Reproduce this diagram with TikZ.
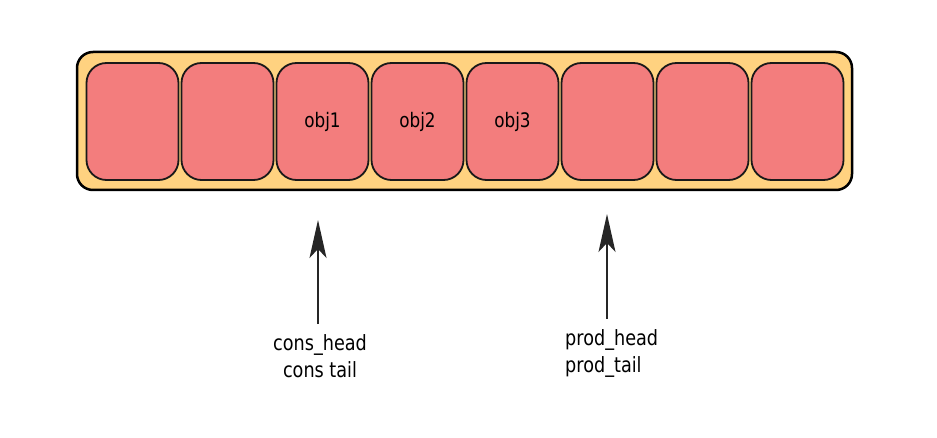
\documentclass[tikz,border=0pt]{standalone}
\usepackage{fontspec}
\setmainfont{DejaVu Sans}
\newfontfamily\narrowfont[FakeStretch=0.84]{DejaVu Sans}
\usetikzlibrary{arrows.meta,positioning}
\definecolor{bufferorange}{HTML}{FFD280}
\definecolor{slotred}{HTML}{F37D7D}
\tikzset{
  buffer/.style={draw=black,line width=2.5pt,rounded corners=16pt,fill=bufferorange,
    minimum width=775pt,minimum height=138pt,inner sep=0pt},
  slot/.style={draw=black!90,line width=1.8pt,rounded corners=20pt,fill=slotred,
    minimum width=92pt,minimum height=117pt,inner sep=0pt,
    font=\narrowfont\fontsize{20}{24}\selectfont},
  pointer/.style={-{Stealth[length=38pt,width=17pt,inset=9pt]},line width=1.5pt,black!85},
  ptrtext/.style={font=\narrowfont\fontsize{21}{27}\selectfont,inner sep=0pt}
}

\begin{document}
\begin{tikzpicture}[x=1pt,y=-1pt]
  \useasboundingbox (0,0) rectangle (937,438);
  % ring buffer
  \node[buffer] (ring) at (464.5,121) {};
  \foreach \i/\txt in {1/,2/,3/obj1,4/obj2,5/obj3,6/,7/,8/} {
    \pgfmathsetmacro{\x}{132.5 + (\i-1)*95}
    \node[slot] (s\i) at (\x,121.5) {\txt};
  }
  % pointers
  \coordinate (consTip) at (318,220);
  \coordinate (prodTip) at (607,214);
  \node[ptrtext,align=center] (cons) at (320,356) {cons\_head\\cons tail};
  \node[ptrtext,align=left,anchor=west] (prod) at (565,353) {prod\_head\\prod\_tail};
  \draw[pointer,shorten <=10pt] (cons.north -| consTip) -- (consTip);
  \draw[pointer,shorten <=10pt] (prod.north -| prodTip) -- (prodTip);
\end{tikzpicture}
\end{document}
